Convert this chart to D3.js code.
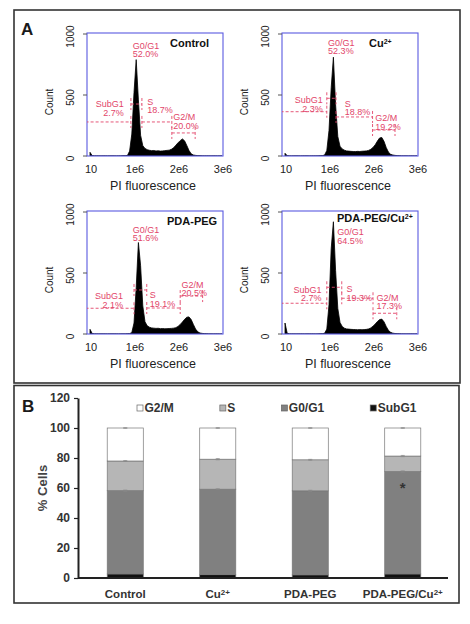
<!DOCTYPE html>
<html><head><meta charset="utf-8">
<script src="https://cdn.jsdelivr.net/npm/d3@7"></script>
<style>
body{margin:0;background:#fff}
svg{display:block}
text{font-family:"Liberation Sans",Arial,Helvetica,sans-serif}
</style>
</head><body>
<svg id="chart" width="470" height="624"></svg>
<script>
// ================= DATA =================
const phases = ["SubG1", "G0/G1", "S", "G2/M"];
const panelNames = ["Control", "Cu2+", "PDA-PEG", "PDA-PEG/Cu2+"];

// Histogram bins (PI fluorescence), bin width 50,000 starting at 0
const binWidth = 50000;
const countsControl = [30,3,1,1,1,0,1,1,0,1,1,1,0,1,1,2,2,4,40,180,520,790,460,170,85,62,52,47,44,45,41,43,40,42,44,46,48,55,68,88,108,126,140,124,86,45,18,8,5,3,2,1,1,1,1,0,1,1,0,1,1];
const countsCu = [22,3,1,0,1,1,1,0,1,1,1,0,1,1,1,1,2,3,8,45,210,560,810,420,160,80,58,48,42,40,38,37,36,38,37,39,40,42,46,55,70,92,122,148,152,120,70,32,14,8,5,3,2,1,1,1,0,1,1,0,1];
const countsPdaPeg = [38,4,1,1,0,1,1,1,0,1,1,1,1,0,1,1,1,2,3,12,90,380,750,560,230,100,68,56,50,48,46,47,44,45,43,44,45,46,48,52,62,78,98,120,138,140,118,78,40,18,8,5,3,2,1,1,0,1,1,0,1];
const countsPdaPegCu = [90,6,1,1,1,0,1,1,1,0,1,1,1,1,0,1,2,3,6,40,240,700,920,520,210,95,62,48,42,40,38,37,36,35,36,35,36,38,42,50,64,82,102,118,122,100,62,30,14,7,4,3,2,1,1,0,1,1,1,0,1];

// Gate percentages in order of phases
const pctControl = [2.7, 52.0, 18.7, 20.0];
const pctCu = [2.3, 52.3, 18.8, 19.2];
const pctPdaPeg = [2.1, 51.6, 19.1, 20.5];
const pctPdaPegCu = [2.7, 64.5, 19.3, 17.3];

// Gates: [start fluorescence, end fluorescence, count level]
const gatesControl = [[-1e5, 0.93e6, 279], [0.93e6, 1.18e6, 426], [1.18e6, 1.86e6, 279], [1.86e6, 2.39e6, 189]];
const gatesCu = [[-1e5, 0.95e6, 363], [0.95e6, 1.16e6, 473], [1.16e6, 1.99e6, 320], [1.99e6, 2.50e6, 213]];
const gatesPdaPeg = [[-1e5, 1.00e6, 211], [1.00e6, 1.29e6, 361], [1.29e6, 2.05e6, 213], [2.05e6, 2.56e6, 311]];
const gatesPdaPegCu = [[-1e5, 0.95e6, 252], [0.95e6, 1.29e6, 383], [1.29e6, 2.00e6, 293], [2.00e6, 2.54e6, 170]];

// Gate label anchors: [fluorescence, count]
const gateLabelsControl = [[0.77e6, 398], [0.97e6, 881], [1.30e6, 422], [1.89e6, 291]];
const gateLabelsCu = [[0.86e6, 434], [0.98e6, 903], [1.36e6, 402], [2.05e6, 283]];
const gateLabelsPdaPeg = [[0.75e6, 283], [0.97e6, 830], [1.36e6, 293], [2.08e6, 379]];
const gateLabelsPdaPegCu = [[0.83e6, 338], [1.19e6, 810], [1.40e6, 342], [2.08e6, 272]];

const histXTicks = [0, 1e6, 2e6, 3e6];
const histXTickLabels = ["10", "1e6", "2e6", "3e6"];
const histYTicks = [0, 500, 1000];

// Bar chart (% cells)
const categories = panelNames;
const barSubG1 = [2.7, 2.2, 2.1, 2.7];
const barG0G1 = [55.5, 57.0, 56.0, 68.2];
const barS = [19.8, 20.0, 20.7, 10.4];
const barG2M = [22.0, 20.8, 21.2, 18.7];
const errSubG1 = [0.2, 0.2, 0.2, 0.3];
const errG0G1 = [0.4, 0.3, 0.4, 0.5];
const errS = [0.3, 0.4, 0.3, 0.4];
const errG2M = [0.2, 0.2, 0.2, 0.2];
const barYTicks = [0, 20, 40, 60, 80, 100, 120];
const legendOrder = ["G2/M", "S", "G0/G1", "SubG1"];
const significantCategory = "PDA-PEG/Cu2+";
const significantValue = 62;

// ================= LAYOUT / STYLE =================
const svg = d3.select("#chart");
const RED = "#e2456a";
const BLUE = "#5a5ae0";
const FW = 136, FH = 123;
const panels = [
  {L: 87, T: 33, counts: countsControl, gates: gatesControl, labels: gateLabelsControl, pct: pctControl, titleDx: 83, titleDy: 13.5},
  {L: 282, T: 33, counts: countsCu, gates: gatesCu, labels: gateLabelsCu, pct: pctCu, titleDx: 87, titleDy: 13.5},
  {L: 87, T: 211, counts: countsPdaPeg, gates: gatesPdaPeg, labels: gateLabelsPdaPeg, pct: pctPdaPeg, titleDx: 80, titleDy: 14},
  {L: 282, T: 211, counts: countsPdaPegCu, gates: gatesPdaPegCu, labels: gateLabelsPdaPegCu, pct: pctPdaPegCu, titleDx: 55, titleDy: 11}
];

function richText(sel, str, supSize) {
  const m = str.match(/^(.*?)(2\+)$/);
  if (m) {
    sel.append("tspan").text(m[1]);
    sel.append("tspan").attr("dy", "-0.42em").attr("font-size", supSize).text(m[2]);
  } else sel.text(str);
}

// outer boxes
svg.append("rect").attr("x", 14).attr("y", 10).attr("width", 446).attr("height", 373)
  .attr("fill", "none").attr("stroke", "#333").attr("stroke-width", 1.6);
svg.append("rect").attr("x", 14).attr("y", 385.5).attr("width", 445).attr("height", 217.5)
  .attr("fill", "none").attr("stroke", "#333").attr("stroke-width", 1.6);

svg.append("text").attr("x", 21).attr("y", 35).attr("font-size", 17).attr("font-weight", "bold").attr("fill", "#1a1a1a").text("A");
svg.append("text").attr("x", 22).attr("y", 412).attr("font-size", 17).attr("font-weight", "bold").attr("fill", "#1a1a1a").text("B");

const defs = svg.append("defs");

panels.forEach((p, pi) => {
  const B = p.T + FH;
  const x = d3.scaleLinear().domain([0, 3e6]).range([p.L + 3, p.L + FW - 1]);
  const y = d3.scaleLinear().domain([0, 1000]).range([B, p.T + 1]);
  const g = svg.append("g");
  const clipId = "clip" + pi;
  defs.append("clipPath").attr("id", clipId).append("rect")
    .attr("x", p.L).attr("y", p.T).attr("width", FW).attr("height", FH);

  const bins = p.counts.map((c, i) => ({f: i * binWidth, c}));
  const area = d3.area().x(d => x(d.f)).y0(y(0)).y1(d => y(d.c));
  g.append("path").datum(bins).attr("d", area).attr("fill", "#000")
    .attr("stroke", "#000").attr("stroke-width", 0.8).attr("clip-path", `url(#${clipId})`);

  g.append("rect").attr("x", p.L).attr("y", p.T).attr("width", FW).attr("height", FH)
    .attr("fill", "none").attr("stroke", BLUE).attr("stroke-width", 1.1);

  // y ticks
  histYTicks.forEach(v => {
    g.append("line").attr("x1", p.L - 4).attr("x2", p.L).attr("y1", y(v)).attr("y2", y(v))
      .attr("stroke", "#555").attr("stroke-width", 1);
    g.append("text").attr("transform", `translate(${p.L - 13},${y(v) + 2.5}) rotate(-90)`)
      .attr("text-anchor", "middle").attr("font-size", 10).attr("fill", "#222").text(v);
  });
  g.append("text").attr("transform", `translate(${p.L - 34},${B - 54}) rotate(-90)`)
    .attr("text-anchor", "middle").attr("font-size", 10).attr("fill", "#222").text("Count");

  // x ticks labels
  histXTicks.forEach((v, i) => {
    g.append("text").attr("x", x(v) + 1).attr("y", B + 16.5).attr("text-anchor", "middle")
      .attr("font-size", 11).attr("fill", "#222").text(histXTickLabels[i]);
  });
  g.append("text").attr("x", p.L + 66).attr("y", B + 33.5).attr("text-anchor", "middle")
    .attr("font-size", 12.5).attr("fill", "#222").text("PI fluorescence");

  // gates
  const gg = g.append("g").attr("clip-path", `url(#${clipId})`);
  p.gates.forEach((gt, i) => {
    const [f0, f1, lv] = gt;
    const yy = y(lv);
    gg.append("line").attr("x1", x(f0)).attr("x2", x(f1)).attr("y1", yy).attr("y2", yy)
      .attr("stroke", RED).attr("stroke-width", 0.9).attr("stroke-dasharray", "3,2");
    [f0, f1].forEach(f => {
      if (x(f) < p.L) return;
      gg.append("line").attr("x1", x(f)).attr("x2", x(f)).attr("y1", yy - 6).attr("y2", yy + 6)
        .attr("stroke", RED).attr("stroke-width", 0.9).attr("stroke-dasharray", "3,2");
    });
  });
  // gate labels
  p.labels.forEach((lb, i) => {
    const tx = x(lb[0]), ty = y(lb[1]);
    const anchor = i === 0 ? "end" : "start";
    g.append("text").attr("x", tx).attr("y", ty).attr("text-anchor", anchor)
      .attr("font-size", 9).attr("fill", RED).text(phases[i]);
    g.append("text").attr("x", tx).attr("y", ty + 8.5).attr("text-anchor", anchor)
      .attr("font-size", 9).attr("fill", RED).text(d3.format(".1f")(p.pct[i]) + "%");
  });

  // title
  const t = g.append("text").attr("x", p.L + p.titleDx).attr("y", p.T + p.titleDy)
    .attr("font-size", 11).attr("font-weight", "bold").attr("fill", "#111");
  richText(t, panelNames[pi], 7);
});

// ================= BAR CHART =================
const colors = {"SubG1": "#111111", "G0/G1": "#808080", "S": "#b6b6b6", "G2/M": "#ffffff"};
const errs = {"SubG1": errSubG1, "G0/G1": errG0G1, "S": errS, "G2/M": errG2M};
const xb = d3.scaleBand().domain(categories).range([79, 449]).paddingInner(0.61).paddingOuter(0.305);
const yb = d3.scaleLinear().domain([0, 120]).range([578, 398]);
const rows = categories.map((c, i) => ({cat: c, "SubG1": barSubG1[i], "G0/G1": barG0G1[i], "S": barS[i], "G2/M": barG2M[i]}));
const stacked = d3.stack().keys(phases)(rows);

const bg = svg.append("g");
stacked.forEach(layer => {
  bg.selectAll(null).data(layer).enter().append("rect")
    .attr("x", d => xb(d.data.cat)).attr("width", xb.bandwidth())
    .attr("y", d => yb(d[1])).attr("height", d => yb(d[0]) - yb(d[1]))
    .attr("fill", colors[layer.key]).attr("stroke", "#777").attr("stroke-width", 0.7);
});
// error caps (small)
stacked.forEach(layer => {
  if (layer.key === "SubG1") return;
  layer.forEach((d, i) => {
    const cx = xb(d.data.cat) + xb.bandwidth() / 2;
    const e = errs[layer.key][i];
    bg.append("line").attr("x1", cx).attr("x2", cx).attr("y1", yb(d[1] + e)).attr("y2", yb(d[1] - e))
      .attr("stroke", "#888").attr("stroke-width", 0.7);
    [d[1] + e, d[1] - e].forEach(v => {
      bg.append("line").attr("x1", cx - 2).attr("x2", cx + 2).attr("y1", yb(v)).attr("y2", yb(v))
        .attr("stroke", "#888").attr("stroke-width", 0.7);
    });
  });
});

// y axis
const ya = svg.append("g").attr("transform", "translate(78,0)")
  .call(d3.axisLeft(yb).tickValues(barYTicks).tickSize(4).tickSizeOuter(0).tickPadding(4));
ya.select(".domain").attr("stroke", "#222").attr("stroke-width", 2);
ya.selectAll(".tick line").attr("stroke", "#222").attr("stroke-width", 1.2);
ya.selectAll(".tick text").attr("font-size", 12).attr("font-weight", "bold").attr("fill", "#333")
  .attr("font-family", '"Liberation Sans",Arial,sans-serif');

// x axis
const xa = svg.append("g").attr("transform", "translate(0,578)")
  .call(d3.axisBottom(xb).tickSize(0).tickSizeOuter(0).tickFormat(""));
xa.select(".domain").attr("stroke", "#222").attr("stroke-width", 2).attr("d", "M78,0H448");

categories.forEach(c => {
  const t = svg.append("text").attr("x", xb(c) + xb.bandwidth() / 2).attr("y", 598)
    .attr("text-anchor", "middle").attr("font-size", 11.5).attr("font-weight", "bold").attr("fill", "#333");
  richText(t, c, 8);
});

svg.append("text").attr("transform", `translate(46.5,${yb(60)}) rotate(-90)`)
  .attr("text-anchor", "middle").attr("font-size", 13).attr("font-weight", "bold").attr("fill", "#444").text("% Cells");

// significance mark
svg.append("text").attr("x", xb(significantCategory) + xb.bandwidth() / 2).attr("y", yb(significantValue) + 8)
  .attr("text-anchor", "middle").attr("font-size", 15).attr("font-weight", "bold").attr("fill", "#333").text("*");

// legend
let lx = 137;
legendOrder.forEach(k => {
  svg.append("rect").attr("x", lx).attr("y", 405).attr("width", 6).attr("height", 6)
    .attr("fill", colors[k]).attr("stroke", "#666").attr("stroke-width", 0.7);
  const t = svg.append("text").attr("x", lx + 7.5).attr("y", 412).attr("font-size", 12)
    .attr("font-weight", "bold").attr("fill", "#333").text(k);
  lx += 7.5 + t.node().getComputedTextLength() + 46;
});
</script>
</body></html>
